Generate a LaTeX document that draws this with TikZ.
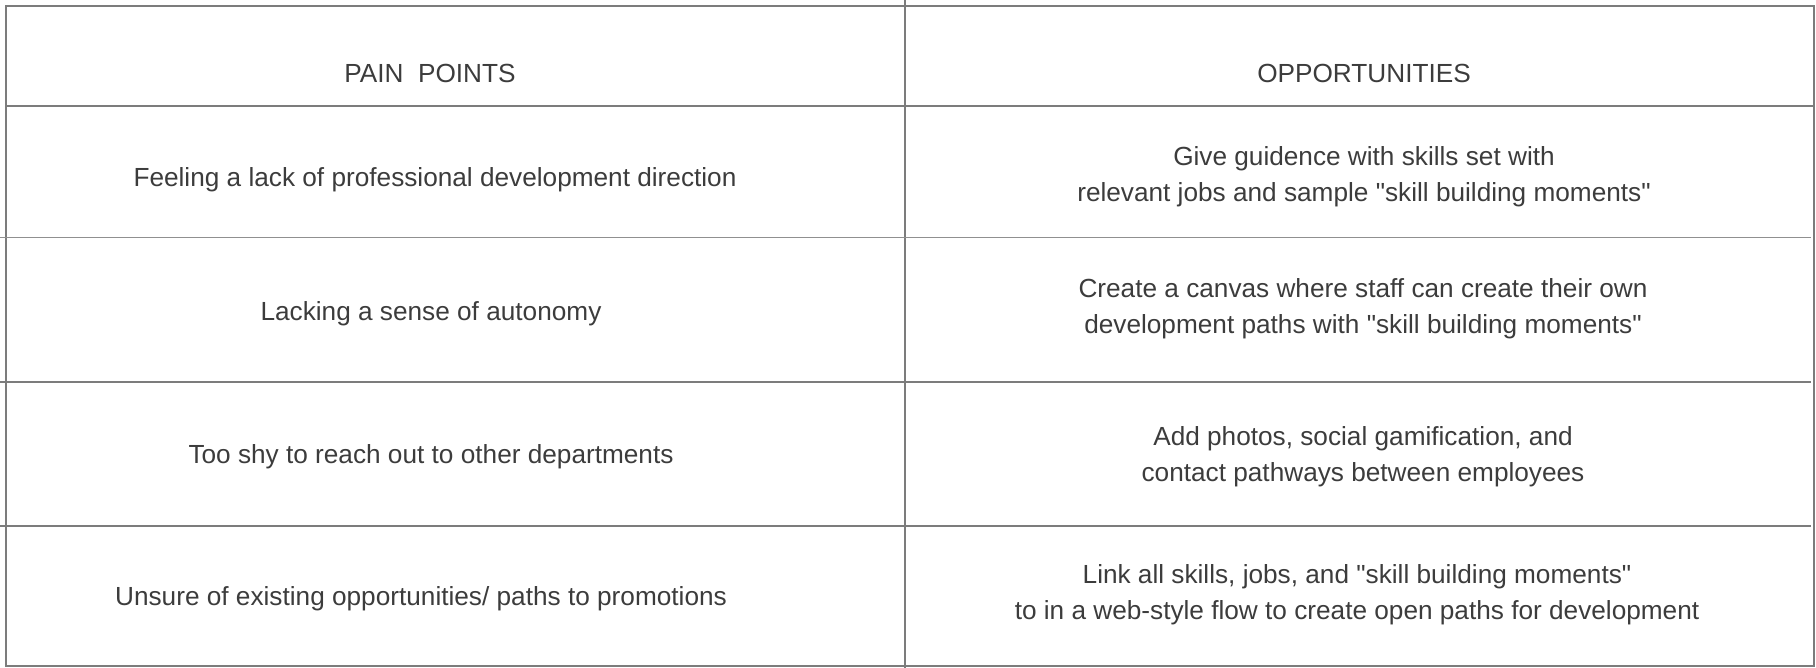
\documentclass[tikz,border=0pt]{standalone}
\usepackage{fontspec}
\setmainfont{Liberation Sans}
\definecolor{rulegray}{HTML}{7C7C7C}
\definecolor{textgray}{HTML}{3C3C3C}
\newcommand{\skillq}{\textquotedbl skill building moments\textquotedbl}
\begin{document}
\begin{tikzpicture}[x=1pt, y=-1pt, line cap=rect]

	\tikzset{cell/.style={font=\fontsize{26.2}{36}\selectfont, text=textgray, align=center, inner sep=0pt},
		rule/.style={draw=rulegray, line width=1.8pt}}

	\useasboundingbox (0,0) rectangle (1816,668);

	% frame and column split
	\draw[rule] (6,6) rectangle (1814,666);
	\draw[rule] (905,0)--(905,668);
	\draw[rule] (6,106)--(1814,106);
	\draw[rule, line width=1pt, draw=rulegray!85] (0,238)--(1810,238);
	\foreach \y in {382,526}
	\draw[rule] (0,\y)--(1810,\y);

	% header
	\node[cell] (painhead) at (430,73) {PAIN~~POINTS};
	\node[cell] (opphead) at (1364,73) {OPPORTUNITIES};

	% pain points
	\node[cell] (painA) at (435,180) {Feeling a lack of professional development direction};
	\node[cell] (painB) at (431,314) {Lacking a sense of autonomy};
	\node[cell] (painC) at (431,457) {Too shy to reach out to other departments};
	\node[cell] (painD) at (421,599) {Unsure of existing opportunities/ paths to promotions};

	% opportunities
	\node[cell] (oppA) at (1364,177) {Give guidence with skills set with\\relevant jobs and sample \skillq};
	\node[cell] (oppB) at (1363,309) {Create a canvas where staff can create their own\\development paths with \skillq};
	\node[cell] (oppC) at (1363,457) {Add photos, social gamification, and\\contact pathways between employees};
	\node[cell] (oppD) at (1357,595) {Link all skills, jobs, and \skillq\\to in a web-style flow to create open paths for development};

\end{tikzpicture}
\end{document}
